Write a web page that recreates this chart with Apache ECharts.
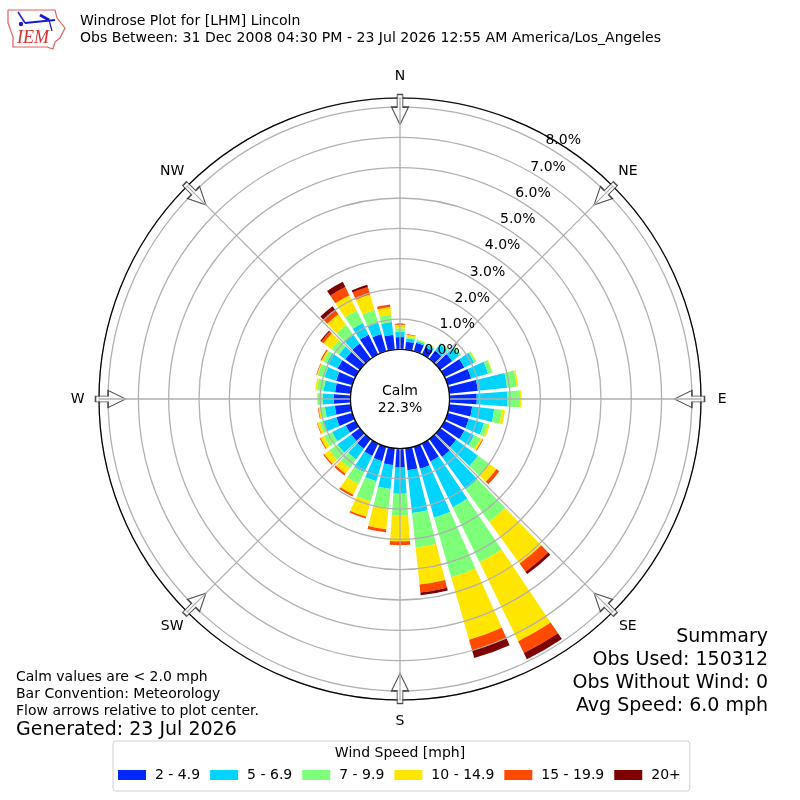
<!DOCTYPE html>
<html><head><meta charset="utf-8">
<style>html,body{margin:0;padding:0;background:#fff}#c{width:800px;height:800px}</style>
<script src="https://cdn.jsdelivr.net/npm/echarts@6/dist/echarts.min.js"></script>
</head><body><div id="c"></div>
<script>
const directions = [0,10,20,30,40,50,60,70,80,90,100,110,120,130,140,150,160,170,180,190,200,210,220,230,240,250,260,270,280,290,300,310,320,330,340,350];
const bin2to5   = [.41,.27,.30,.28,.33,.50,.73,.81,.95,.90,.76,.73,.73,.66,.73,.66,.76,.73,.63,.56,.50,.46,.40,.36,.36,.55,.53,.56,.52,.56,.66,.60,.63,.73,.60,.50];
const bin5to7   = [.18,.11,.06,.08,.27,.29,.36,.58,.97,1.02,.73,.52,.36,.89,1.32,1.68,1.68,1.42,.86,.79,.69,.60,.43,.56,.50,.44,.33,.36,.38,.40,.40,.26,.36,.43,.38,.42];
const bin7to10  = [.11,.05,.04,.04,.06,.07,.07,.14,.32,.41,.26,.14,.23,.45,1.32,2.02,2.05,1.15,.71,.63,.69,.43,.36,.33,.30,.13,.16,.16,.22,.23,.13,.30,.40,.46,.44,.24];
const bin10to15 = [.12,.07,.02,.02,0,0,.02,.02,.05,.05,.10,.06,.07,.30,1.71,2.90,2.14,1.22,.86,.71,.53,.39,.23,.21,.13,.08,.05,.03,.06,.03,.06,.33,.43,.56,.53,.26];
const bin15to20 = [.03,.02,0,0,0,0,0,0,0,0,0,0,.03,.12,.33,.43,.37,.27,.13,.10,.06,.07,.07,.04,.03,.02,.02,0,0,.02,.04,.09,.16,.30,.26,.08];
const bin20plus = [0,0,0,0,0,0,0,0,0,0,0,0,0,0,.10,.23,.26,.09,0,0,0,0,0,0,0,0,0,0,0,0,0,.04,.17,.19,.08,0];
const binNames  = ['2 - 4.9','5 - 6.9','7 - 9.9','10 - 14.9','15 - 19.9','20+'];
const binColors = ['#0028ff','#00d4ff','#7dff7a','#ffe600','#ff4a00','#7f0000'];
const binValues = [bin2to5,bin5to7,bin7to10,bin10to15,bin15to20,bin20plus];
const radialTicks = [0,1,2,3,4,5,6,7,8];
const compassAngles = [0,45,90,135,180,225,270,315];
const compassLabels = ['N','NE','E','SE','S','SW','W','NW'];
const radialMax = 8.3;
const titleLines = ['Windrose Plot for [LHM] Lincoln','Obs Between: 31 Dec 2008 04:30 PM - 23 Jul 2026 12:55 AM America/Los_Angeles'];
const summaryLines = ['Summary','Obs Used: 150312','Obs Without Wind: 0','Avg Speed: 6.0 mph'];
const noteLines = ['Calm values are < 2.0 mph','Bar Convention: Meteorology','Flow arrows relative to plot center.'];
const generated = 'Generated: 23 Jul 2026';

const FONT = '"DejaVu Sans"';
const CX = 400, CY = 399, R0 = 49.5, R1 = 301;
const text = (x,y,t,size,align) => ({type:'text',x,y,z:20,silent:true,style:{text:t,font:size+'px '+FONT,fill:'#000',textAlign:align||'left',textVerticalAlign:'middle'}});

const arrowPath = 'path://M6,0 L12,0 L12,13 L18,13 L9,31 L0,13 L6,13 Z';
const ring = {min:0,max:radialMax,interval:1};
const chart = echarts.init(document.getElementById('c'),null,{renderer:'canvas'});
const option = {
  animation:false,
  backgroundColor:'#fff',
  textStyle:{fontFamily:FONT},
  polar:[{center:[CX,CY],radius:[R0,R1]},{center:[CX,CY],radius:[R0,R1]}],
  angleAxis:[
    {polarIndex:0,type:'category',data:directions,startAngle:95,clockwise:true,boundaryGap:true,z:6,
     axisLine:{show:true,lineStyle:{color:'#000',width:1.2}},axisTick:{show:false},axisLabel:{show:false},splitLine:{show:false}},
    {polarIndex:1,type:'value',min:0,max:360,interval:45,startAngle:90,clockwise:true,z:8,
     axisLine:{show:false},axisTick:{show:false},axisLabel:{show:false},
     splitLine:{show:true,lineStyle:{color:'#b0b0b0',width:1.3}}}
  ],
  radiusAxis:[
    Object.assign({polarIndex:0,type:'value',z:5,axisLine:{show:false},axisTick:{show:false},axisLabel:{show:false},
     splitLine:{show:true,lineStyle:{color:'#b0b0b0',width:1.3}}},ring),
    Object.assign({polarIndex:1,type:'value',z:1,axisLine:{show:false},axisTick:{show:false},axisLabel:{show:false},
     splitLine:{show:false}},ring)
  ],
  legend:{
    data:binNames,left:113,top:741,orient:'horizontal',icon:'rect',itemWidth:28,itemHeight:10,itemGap:10,
    padding:[27,9,9,5],borderColor:'#d0d0d0',borderWidth:1,borderRadius:3,backgroundColor:'#fff',selectedMode:false,
    textStyle:{fontFamily:FONT,fontSize:14,color:'#000',padding:[0,0,0,4]}
  },
  series:[
    ...binNames.map((name,i)=>({
      name,type:'bar',coordinateSystem:'polar',polarIndex:0,stack:'wind',barWidth:'80%',z:2,silent:true,
      itemStyle:{color:binColors[i]},data:binValues[i]
    })),
    {name:'arrows',type:'scatter',coordinateSystem:'polar',polarIndex:1,clip:false,z:7,silent:true,
     symbol:arrowPath,symbolSize:[17,30],
     symbolRotate:(v)=>-v[1],
     itemStyle:{color:'#fff',borderColor:'#222',borderWidth:1.2},
     data:compassAngles.map(a=>[7.92,a])},
    {name:'compass',type:'scatter',coordinateSystem:'polar',polarIndex:1,clip:false,z:9,silent:true,
     symbolSize:1,itemStyle:{color:'rgba(0,0,0,0)'},
     label:{show:true,position:'inside',align:'center',verticalAlign:'middle',fontFamily:FONT,fontSize:14,color:'#000',opacity:1,
       formatter:p=>compassLabels[p.dataIndex]},
     data:compassAngles.map(a=>[9.0,a])},
    {name:'radial',type:'scatter',coordinateSystem:'polar',polarIndex:1,clip:false,z:9,silent:true,
     symbolSize:1,itemStyle:{color:'rgba(0,0,0,0)'},
     label:{show:true,position:[0,2],align:'left',verticalAlign:'bottom',fontFamily:FONT,fontSize:14,color:'#000',opacity:1,
       formatter:p=>radialTicks[p.dataIndex].toFixed(1)+'%'},
     data:radialTicks.map(t=>[t,30])}
  ],
  graphic:[
    {type:'circle',z:10,silent:true,shape:{cx:CX,cy:CY,r:R0},style:{fill:'#fff',stroke:'#000',lineWidth:1.2}},
    text(CX,391,'Calm',14,'center'),
    text(CX,408,'22.3%',14,'center'),
    text(80,21,titleLines[0],14.07),
    text(80,38,titleLines[1],14.07),
    ...summaryLines.map((t,i)=>text(768,637+i*23,t,19,'right')),
    ...noteLines.map((t,i)=>text(16,677+i*17,t,14)),
    text(16,730,generated,19),
    text(CX,753,'Wind Speed [mph]',14,'center'),
    // IEM logo
    {type:'polyline',z:20,silent:true,shape:{points:[[8,10],[55,10],[57,18],[65,28],[60,38],[55,42],[53,49],[47,47],[13,47],[13,37],[8,23],[8,10]]},
     style:{fill:'none',stroke:'#e06060',lineWidth:1.2}},
    {type:'polyline',z:20,silent:true,shape:{points:[[25,23],[55,20]]},style:{fill:'none',stroke:'#1a1ad0',lineWidth:2.2}},
    {type:'polyline',z:20,silent:true,shape:{points:[[18,12],[25,23]]},style:{fill:'none',stroke:'#1a1ad0',lineWidth:1.5}},
    {type:'polyline',z:20,silent:true,shape:{points:[[40,15],[49,20]]},style:{fill:'none',stroke:'#1a1ad0',lineWidth:3}},
    {type:'polyline',z:20,silent:true,shape:{points:[[49,20],[52,31]]},style:{fill:'none',stroke:'#1a1ad0',lineWidth:1.2}},
    {type:'circle',z:20,silent:true,shape:{cx:21,cy:24,r:2.2},style:{fill:'#1a1ad0'}},
    {type:'text',x:17,y:38,z:20,silent:true,style:{text:'IEM',font:'italic 18px "Liberation Serif"',fill:'#d83030',textVerticalAlign:'middle'}}
  ]
};
chart.setOption(option);
</script></body></html>
